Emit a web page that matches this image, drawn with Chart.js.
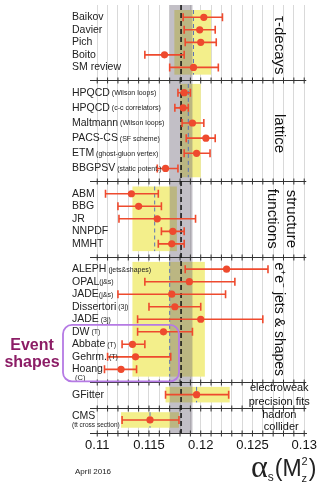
<!DOCTYPE html>
<html>
<head>
<meta charset="utf-8">
<script src="https://cdn.jsdelivr.net/npm/chart.js@4.4.1/dist/chart.umd.min.js"></script>
<style>
  html, body { margin: 0; padding: 0; background: #fff; }
  canvas { display: block; }
</style>
</head>
<body>
<canvas id="alphaChart" width="322" height="485"></canvas>
<script>
// ============================================================
// DATA  (alpha_s(Mz^2) sub-field summary, April 2016)
// ============================================================
const tauNames = ['Baikov', 'Davier', 'Pich', 'Boito', 'SM review'];
const tauSubs  = ['', '', '', '', ''];
const tauVals  = [0.1203, 0.1199, 0.1200, 0.1165, 0.1193];
const tauLo    = [0.1183, 0.1184, 0.1185, 0.1146, 0.1170];
const tauHi    = [0.1221, 0.1214, 0.1215, 0.1184, 0.1217];
const tauAvg   = [0.11745, 0.1210, 0.1193];   // band low, band high, centre

const latNames = ['HPQCD', 'HPQCD', 'Maltmann', 'PACS-CS', 'ETM', 'BBGPSV'];
const latSubs  = [' (Wilson loops)', ' (c-c correlators)', ' (Wilson loops)', ' (SF scheme)', ' (ghost-gluon vertex)', ' (static potent.)'];
const latVals  = [0.1184, 0.1183, 0.1192, 0.1205, 0.1196, 0.1166];
const latLo    = [0.1178, 0.1175, 0.1182, 0.1186, 0.1184, 0.1158];
const latHi    = [0.1190, 0.1188, 0.1203, 0.1214, 0.1209, 0.1178];
const latAvg   = [0.1180, 0.1200, 0.1188];

const sfNames = ['ABM', 'BBG', 'JR', 'NNPDF', 'MMHT'];
const sfSubs  = ['', '', '', '', ''];
const sfVals  = [0.1133, 0.1140, 0.1158, 0.1173, 0.1172];
const sfLo    = [0.1108, 0.1120, 0.1121, 0.1162, 0.1159];
const sfHi    = [0.1159, 0.1162, 0.1195, 0.1184, 0.1184];
const sfAvg   = [0.1134, 0.1177, 0.11555];

const eeNames = ['ALEPH', 'OPAL', 'JADE', 'Dissertori', 'JADE', 'DW', 'Abbate', 'Gehrm.', 'Hoang'];
const eeSubs  = [' (jets&shapes)', '(j&s)', '(j&s)', ' (3j)', ' (3j)', ' (T)', ' (T)', ' (T)', '\n(C)'];
const eeVals  = [0.1225, 0.1189, 0.1172, 0.1175, 0.1200, 0.1164, 0.1134, 0.1137, 0.1123];
const eeLo    = [0.1185, 0.1146, 0.1120, 0.1150, 0.1139, 0.1139, 0.1124, 0.1110, 0.1107];
const eeHi    = [0.1265, 0.1233, 0.1224, 0.1200, 0.1260, 0.1192, 0.1146, 0.1171, 0.1138];
const eeAvg   = [0.1134, 0.1204, 0.1170];

const ewNames = ['GFitter'];
const ewSubs  = [''];
const ewVals  = [0.1196];
const ewLo    = [0.1166];
const ewHi    = [0.1227];
const ewAvg   = [0.1166, 0.1228, 0.1196];

const hcNames = ['CMS'];
const hcSubs  = ['\n(tt cross section)'];
const hcVals  = [0.1151];
const hcLo    = [0.1124];
const hcHi    = [0.1179];
const hcAvg   = [0.1123, 0.1179, 0.1151];

const worldAvg = [0.1170, 0.1192, 0.1181];   // band low, band high, centre
const xTickLabels = ['0.11', '0.115', '0.12', '0.125', '0.13'];

// ============================================================
// LAYOUT / STYLE
// ============================================================
const RED = '#ee4a2e', YELLOW = '#f3ef8b', BLUE = '#5a72b6';
const FONT = '"Liberation Sans", Arial, sans-serif';
const LEAD = 0.98, TRAIL = 1.04;

const sections = [
  { names: tauNames, subs: tauSubs, vals: tauVals, lo: tauLo, hi: tauHi, avg: tauAvg, step: 1.0 },
  { names: latNames, subs: latSubs, vals: latVals, lo: latLo, hi: latHi, avg: latAvg, step: 1.21 },
  { names: sfNames,  subs: sfSubs,  vals: sfVals,  lo: sfLo,  hi: sfHi,  avg: sfAvg,  step: 1.0 },
  { names: eeNames,  subs: eeSubs,  vals: eeVals,  lo: eeLo,  hi: eeHi,  avg: eeAvg,  step: 1.0 },
  { names: ewNames,  subs: ewSubs,  vals: ewVals,  lo: ewLo,  hi: ewHi,  avg: ewAvg,  step: 1.0 },
  { names: hcNames,  subs: hcSubs,  vals: hcVals,  lo: hcLo,  hi: hcHi,  avg: hcAvg,  step: 1.0 },
];

// build row positions (row units on a hidden reversed y scale)
const rows = [], bands = [], sepLines = [], secMid = [];
let yPos = 0;
sections.forEach(s => {
  yPos += LEAD;
  const first = yPos, n = s.vals.length;
  const last = first + (n - 1) * s.step;
  s.vals.forEach((v, i) => rows.push({ y: first + i * s.step, v, lo: s.lo[i], hi: s.hi[i], name: s.names[i], sub: s.subs[i] }));
  const pad = (n > 1 ? 0.58 : 0.62) * s.step;
  bands.push({ lo: s.avg[0], hi: s.avg[1], c: s.avg[2], y0: first - pad, y1: last + pad });
  secMid.push((first + last) / 2);
  yPos = last + TRAIL;
  sepLines.push(yPos);
});
const yMax = yPos;

// ============================================================
// PLUGINS
// ============================================================
function hTicks(ctx, x, yPix, a) {
  ctx.beginPath();
  ctx.moveTo(a.left, yPix); ctx.lineTo(a.right, yPix);
  for (let k = 110; k <= 130; k++) {
    const px = x.getPixelForValue(k / 1000);
    ctx.moveTo(px, yPix - 3); ctx.lineTo(px, yPix + 3);
  }
  ctx.stroke();
}

const summaryPlugin = {
  id: 'summaryDecor',
  beforeDatasetsDraw(chart) {
    const { ctx, chartArea: a, scales: { x, y } } = chart;
    ctx.save();
    // sub-field averages
    ctx.fillStyle = YELLOW;
    bands.forEach(b => {
      const x0 = x.getPixelForValue(b.lo), x1 = x.getPixelForValue(b.hi);
      const y0 = y.getPixelForValue(b.y0), y1 = y.getPixelForValue(b.y1);
      ctx.fillRect(x0, y0, x1 - x0, y1 - y0);
    });
    // world average band
    const g0 = x.getPixelForValue(worldAvg[0]), g1 = x.getPixelForValue(worldAvg[1]);
    ctx.fillStyle = 'rgba(110,102,118,0.42)';
    ctx.fillRect(g0, a.top, g1 - g0, a.bottom - a.top);
    // section separators with ticks
    ctx.strokeStyle = '#333'; ctx.lineWidth = 1;
    sepLines.forEach(v => hTicks(ctx, x, Math.round(y.getPixelForValue(v)) + 0.5, a));
    // blue dashed sub-field centres
    ctx.strokeStyle = BLUE; ctx.lineWidth = 1; ctx.setLineDash([4, 3]);
    bands.forEach(b => {
      const px = x.getPixelForValue(b.c);
      ctx.beginPath(); ctx.moveTo(px, y.getPixelForValue(b.y0)); ctx.lineTo(px, y.getPixelForValue(b.y1)); ctx.stroke();
    });
    // world average line
    ctx.strokeStyle = '#111'; ctx.lineWidth = 1.5; ctx.setLineDash([5, 3]);
    const wx = x.getPixelForValue(worldAvg[2]);
    ctx.beginPath(); ctx.moveTo(wx, a.top); ctx.lineTo(wx, a.bottom); ctx.stroke();
    ctx.setLineDash([]);
    // error bars
    ctx.strokeStyle = RED; ctx.lineWidth = 1.6;
    rows.forEach(r => {
      const py = y.getPixelForValue(r.y), xl = x.getPixelForValue(r.lo), xh = x.getPixelForValue(r.hi);
      ctx.beginPath();
      ctx.moveTo(xl, py); ctx.lineTo(xh, py);
      ctx.moveTo(xl, py - 4); ctx.lineTo(xl, py + 4);
      ctx.moveTo(xh, py - 4); ctx.lineTo(xh, py + 4);
      ctx.stroke();
    });
    ctx.restore();
  },
  afterDraw(chart) {
    const { ctx, chartArea: a, scales: { x, y } } = chart;
    ctx.save();
    ctx.fillStyle = '#222';
    ctx.textBaseline = 'middle';
    ctx.textAlign = 'left';
    // row labels
    const lx = a.left - 18;
    rows.forEach(r => {
      const py = y.getPixelForValue(r.y);
      if (r.sub.startsWith('\n')) {
        const small = r.sub.length > 5;
        ctx.font = '10.5px ' + FONT;
        ctx.fillText(r.name, lx, small ? py - 4 : py);
        ctx.font = (small ? '6.5px ' : '7.5px ') + FONT;
        ctx.fillText(r.sub.slice(1), lx + (small ? 0 : 3), small ? py + 5 : py + 9);
      } else {
        ctx.font = '10.5px ' + FONT;
        ctx.fillText(r.name, lx, py);
        const w = ctx.measureText(r.name).width;
        ctx.font = '7px ' + FONT;
        ctx.fillText(r.sub, lx + w, py + 0.5);
      }
    });

    // section titles (right side)
    const tx = a.right - 27;
    const vText = (txt, cx, cy, size) => {
      ctx.save();
      ctx.translate(cx, cy); ctx.rotate(Math.PI / 2);
      ctx.font = size + 'px ' + FONT; ctx.textAlign = 'center'; ctx.textBaseline = 'middle';
      ctx.fillText(txt, 0, 0);
      ctx.restore();
    };
    ctx.fillStyle = '#111';
    vText('\u03C4-decays', tx, y.getPixelForValue(secMid[0]) + 3, 15);
    vText('lattice', tx, y.getPixelForValue(secMid[1]) + 3, 15);
    vText('structure', tx + 12, y.getPixelForValue(secMid[2]), 15);
    vText('functions', tx - 7, y.getPixelForValue(secMid[2]), 15);
    vText('e\u207Ae\u207B jets & shapes', tx, y.getPixelForValue(secMid[3]), 14);
    ctx.font = '11px ' + FONT; ctx.textAlign = 'center'; ctx.textBaseline = 'middle';
    const ewY = y.getPixelForValue(secMid[4]);
    ctx.fillText('electroweak', tx, ewY - 7);
    ctx.fillText('precision fits', tx, ewY + 7);
    const hcY = y.getPixelForValue(secMid[5]);
    ctx.fillText('hadron', tx, hcY - 5);
    ctx.fillText('collider', tx + 2, hcY + 7);

    // event-shape grouping box
    const dwRow = rows.find(r => r.name === 'DW');
    const bx0 = a.left - 27, bx1 = x.getPixelForValue(0.1179);
    const by0 = y.getPixelForValue(dwRow.y - 0.55), by1 = y.getPixelForValue(sepLines[3]) - 1;
    ctx.strokeStyle = '#b57ae4'; ctx.lineWidth = 1.8;
    ctx.beginPath(); ctx.roundRect(bx0, by0, bx1 - bx0, by1 - by0, 9); ctx.stroke();
    ctx.fillStyle = '#8c1d66';
    ctx.font = 'bold 16px ' + FONT; ctx.textAlign = 'center';
    ctx.fillText('Event', 32, (by0 + by1) / 2 - 8);
    ctx.fillText('shapes', 32, (by0 + by1) / 2 + 9);

    // footer
    ctx.fillStyle = '#222'; ctx.textAlign = 'left'; ctx.textBaseline = 'alphabetic';
    ctx.font = '8px ' + FONT;
    ctx.fillText('April 2016', 75, 474);
    // alpha_s(Mz^2)
    let cx = 251;
    ctx.font = '32px "Liberation Serif", serif';
    ctx.fillText('\u03B1', cx, 477); cx += ctx.measureText('\u03B1').width;
    ctx.font = '12px ' + FONT; ctx.fillText('s', cx, 481); cx += ctx.measureText('s').width + 1;
    ctx.font = '23px ' + FONT; ctx.fillText('(M', cx, 476); cx += ctx.measureText('(M').width;
    ctx.font = '11px ' + FONT; ctx.fillText('2', cx, 465); ctx.fillText('z', cx, 482); cx += ctx.measureText('2').width + 1;
    ctx.font = '23px ' + FONT; ctx.fillText(')', cx, 476);
    ctx.restore();
  }
};

// ============================================================
// CHART
// ============================================================
const ctx = document.getElementById('alphaChart').getContext('2d');
new Chart(ctx, {
  type: 'scatter',
  data: {
    datasets: [{
      data: rows.map(r => ({ x: r.v, y: r.y })),
      backgroundColor: RED, borderColor: RED,
      pointRadius: 3.6, pointHoverRadius: 3.6, borderWidth: 0,
    }]
  },
  options: {
    responsive: false, animation: false, devicePixelRatio: 1,
    layout: { padding: { left: 90, right: 15, top: 5, bottom: 0 } },
    plugins: { legend: { display: false }, tooltip: { enabled: false } },
    scales: {
      x: {
        type: 'linear', min: 0.1093, max: 0.1302,
        grid: { color: '#d9d9d9', lineWidth: 1, drawTicks: false },
        border: { display: true, color: '#333' },
        ticks: {
          stepSize: 0.001, autoSkip: false, includeBounds: false, maxRotation: 0, padding: 5,
          color: '#111', font: { size: 13, family: FONT },
          callback: v => {
            const k = Math.round(v * 1000);
            return k % 5 === 0 ? xTickLabels[(k - 110) / 5] : '';
          }
        },
        afterFit: s => { s.height = 52; }
      },
      y: { type: 'linear', min: 0, max: yMax, reverse: true, display: false }
    }
  },
  plugins: [summaryPlugin]
});
</script>
</body>
</html>
